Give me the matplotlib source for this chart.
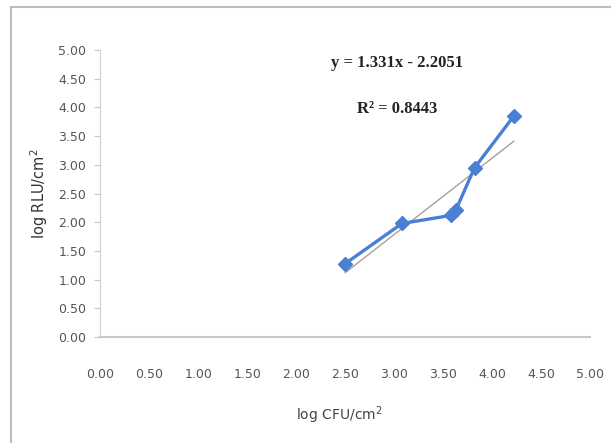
import numpy as np
import matplotlib
matplotlib.use("Agg")
import matplotlib.pyplot as plt
from matplotlib.lines import Line2D

# data
log_cfu = [2.50, 3.08, 3.58, 3.63, 3.82, 4.22]
log_rlu = [1.28, 1.98, 2.12, 2.22, 2.95, 3.85]
slope = 1.331
intercept = -2.2051
r_squared = 0.8443
ticks = [0.0, 0.5, 1.0, 1.5, 2.0, 2.5, 3.0, 3.5, 4.0, 4.5, 5.0]

fig = plt.figure(figsize=(6.11, 4.43), dpi=100)
ax = fig.add_axes([0.164, 0.239, 0.802, 0.648])

# linear trend line over the data range
x_fit = np.array([min(log_cfu), max(log_cfu)])
ax.plot(x_fit, slope * x_fit + intercept, color='#a8a096', lw=1.0, zorder=2)

# measured points
ax.plot(log_cfu, log_rlu, '-D', color='#4a80d4', lw=2.4, ms=7,
        markeredgecolor='#4a80d4', zorder=3)

ax.set_xlim(0, 5)
ax.set_ylim(0, 5)
ax.set_xticks(ticks)
ax.set_yticks(ticks)
ax.set_xticklabels(['%.2f' % t for t in ticks])
ax.set_yticklabels(['%.2f' % t for t in ticks])
ax.tick_params(axis='both', colors='#c8c8c8', labelcolor='#555555',
               labelsize=9, length=4, direction='out')
ax.tick_params(axis='x', length=0, pad=22)
ax.tick_params(axis='y', pad=6)
for s in ['top', 'right']:
    ax.spines[s].set_visible(False)
ax.spines['left'].set_color('#d0d0d0')
ax.spines['bottom'].set_color('#c8c8c8')
ax.spines['bottom'].set_linewidth(1.5)

ax.set_ylabel('log RLU/cm$^2$', fontsize=10.5, color='#333333', labelpad=6)
fig.text(0.556, 0.063, 'log CFU/cm$^2$', fontsize=10, color='#444444',
         ha='center', va='center')

ax.text(3.03, 4.78, 'y = %.3fx - %.4f' % (slope, -intercept), family='Liberation Serif',
        fontsize=12, fontweight='bold', color='#222222', ha='center', va='center')
ax.text(3.03, 3.97, 'R\u00b2 = %.4f' % r_squared, family='Liberation Serif',
        fontsize=12, fontweight='bold', color='#222222', ha='center', va='center')

# outer frame of the chart area
fig.add_artist(Line2D([11 / 611, 11 / 611], [0, 1 - 7 / 443], color='#bdbdbd', lw=1.5))
fig.add_artist(Line2D([11 / 611, 1], [1 - 7 / 443, 1 - 7 / 443], color='#bdbdbd', lw=1.5))

fig.savefig('out.png', dpi=100)
